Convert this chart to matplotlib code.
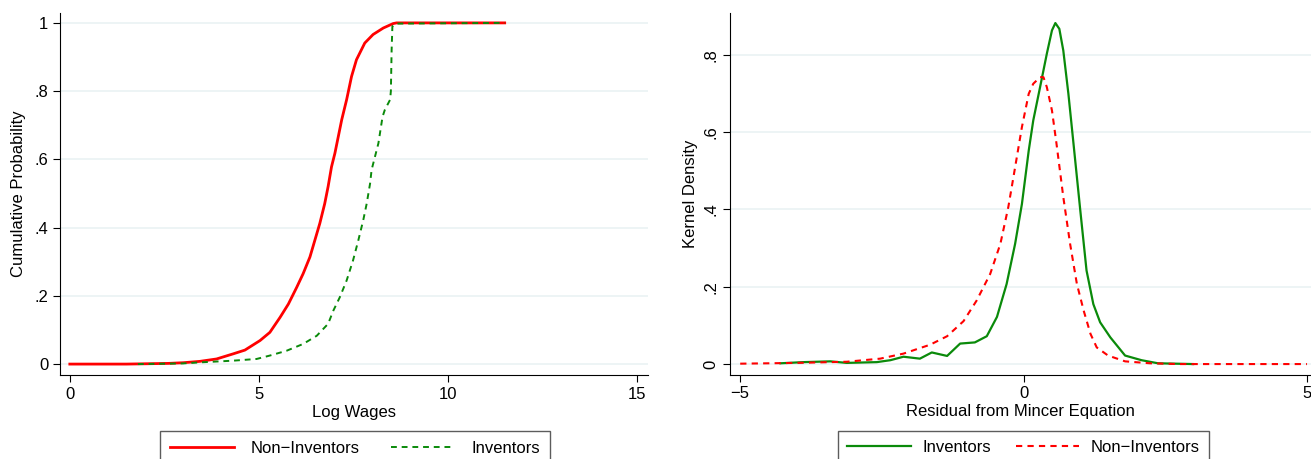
import numpy as np
import matplotlib.pyplot as plt

plt.rcParams['font.family'] = ['Liberation Sans', 'DejaVu Sans']

# left panel: cumulative distribution of log wages
noninv_x = [0.0, 1.5, 2.6, 3.0, 3.44, 3.88, 4.32, 4.63, 5.03, 5.29, 5.56, 5.78, 6.0, 6.17, 6.35,
            6.48, 6.61, 6.74, 6.83, 6.92, 7.01, 7.10, 7.19, 7.32, 7.45, 7.58, 7.80, 8.02, 8.29,
            8.55, 8.64, 11.5]
noninv_cdf = [0.0, 0.0, 0.002, 0.004, 0.008, 0.015, 0.03, 0.041, 0.069, 0.093, 0.137, 0.176, 0.225,
              0.265, 0.314, 0.363, 0.412, 0.47, 0.52, 0.578, 0.618, 0.667, 0.716, 0.775, 0.843,
              0.892, 0.941, 0.966, 0.985, 0.998, 1.0, 1.0]
inv_x = [1.8, 3.0, 3.44, 4.32, 4.94, 5.29, 5.73, 6.17, 6.53, 6.83, 6.97, 7.14, 7.32, 7.49, 7.63,
         7.76, 7.85, 7.94, 7.98, 8.07, 8.16, 8.27, 8.33, 8.47, 8.49, 8.51, 8.53, 8.64, 11.5]
inv_cdf = [0.0, 0.002, 0.005, 0.01, 0.015, 0.025, 0.039, 0.059, 0.083, 0.118, 0.157, 0.196, 0.245,
           0.304, 0.363, 0.422, 0.47, 0.529, 0.569, 0.608, 0.647, 0.725, 0.745, 0.775, 0.80, 0.92,
           0.99, 0.998, 1.0]

# right panel: kernel densities of Mincer residuals
inv_res = [-4.29, -3.88, -3.41, -3.12, -2.59, -2.35, -2.12, -1.83, -1.62, -1.35, -1.12, -0.86,
           -0.65, -0.47, -0.30, -0.15, -0.03, 0.09, 0.17, 0.29, 0.41, 0.50, 0.56, 0.63, 0.70,
           0.79, 0.88, 1.0, 1.11, 1.23, 1.35, 1.53, 1.79, 2.08, 2.37, 2.99]
inv_dens = [0.002, 0.005, 0.007, 0.003, 0.005, 0.010, 0.019, 0.014, 0.030, 0.021, 0.053, 0.056,
            0.072, 0.122, 0.207, 0.311, 0.414, 0.552, 0.63, 0.716, 0.803, 0.863, 0.882, 0.867,
            0.811, 0.699, 0.57, 0.397, 0.242, 0.155, 0.108, 0.069, 0.022, 0.010, 0.002, 0.0]
noninv_res = [-5.0, -4.0, -3.12, -2.53, -2.12, -1.65, -1.35, -1.06, -0.83, -0.59, -0.41, -0.27,
              -0.15, -0.03, 0.09, 0.17, 0.29, 0.35, 0.41, 0.50, 0.58, 0.70, 0.82, 0.94, 1.06,
              1.18, 1.29, 1.49, 1.79, 2.23, 2.74, 5.0]
noninv_dens = [0.001, 0.003, 0.006, 0.014, 0.027, 0.05, 0.072, 0.111, 0.164, 0.233, 0.311, 0.406,
               0.509, 0.613, 0.699, 0.725, 0.742, 0.742, 0.716, 0.656, 0.57, 0.432, 0.311, 0.207,
               0.138, 0.078, 0.043, 0.022, 0.007, 0.002, 0.0, 0.0]

red = '#FF0000'
green = '#0A8A0A'
grid_c = '#EAF2F3'
W, H = 1311, 459

fig = plt.figure(figsize=(W / 100, H / 100), dpi=100)


def px_axes(left, top, right, bottom):
    return fig.add_axes([left / W, 1 - bottom / H, (right - left) / W, (bottom - top) / H])


def style(ax):
    for s in ['top', 'right']:
        ax.spines[s].set_visible(False)
    ax.tick_params(direction='out', length=5, labelsize=12, colors='black')
    ax.grid(axis='y', color=grid_c, lw=1.2)
    ax.set_axisbelow(True)


def add_legend(ax, cx, textpad, colspace, pad):
    leg = ax.legend(ncol=2, loc='upper center', bbox_to_anchor=(cx / W, 1 - 431 / H),
                    bbox_transform=fig.transFigure, fontsize=12, fancybox=False,
                    edgecolor='#333333', handlelength=3.8, handletextpad=textpad,
                    columnspacing=colspace, borderpad=pad, borderaxespad=0)
    leg.get_frame().set_linewidth(1.0)
    return leg


# left
ax1 = px_axes(60, 13, 648, 375)
style(ax1)
ax1.plot(noninv_x, noninv_cdf, color=red, lw=2.0, label='Non\u2212Inventors')
ax1.plot(inv_x, inv_cdf, color=green, lw=1.4, ls=(0, (3, 2.5)), label='Inventors')
ax1.set_xlim(-0.26, 15.29)
ax1.set_ylim(-0.032, 1.029)
ax1.set_xticks([0, 5, 10, 15])
ax1.set_yticks([0, 0.2, 0.4, 0.6, 0.8, 1.0])
ax1.set_yticklabels(['0', '.2', '.4', '.6', '.8', '1'])
ax1.set_xlabel('Log Wages', fontsize=12, labelpad=2)
ax1.set_ylabel('Cumulative Probability', fontsize=12, labelpad=6)
add_legend(ax1, 355, 1.0, 1.9, 0.6)

# right
ax2 = px_axes(730, 13, 1311, 374.5)
style(ax2)
ax2.plot(inv_res, inv_dens, color=green, lw=1.6, label='Inventors')
ax2.plot(noninv_res, noninv_dens, color=red, lw=1.5, ls=(0, (3, 2.5)), label='Non\u2212Inventors')
ax2.set_xlim(-5.18, 5.07)
ax2.set_ylim(-0.027, 0.908)
ax2.set_xticks([-5, 0, 5])
ax2.set_xticklabels(['\u22125', '0', '5'])
ax2.set_yticks([0, 0.2, 0.4, 0.6, 0.8])
ax2.set_yticklabels(['0', '.2', '.4', '.6', '.8'], rotation=90, va='center')
ax2.set_xlabel('Residual from Mincer Equation', fontsize=12, labelpad=2)
ax2.set_ylabel('Kernel Density', fontsize=12, labelpad=4)
add_legend(ax2, 1023.5, 0.7, 1.5, 0.55)

fig.savefig('out.png', dpi=100)
